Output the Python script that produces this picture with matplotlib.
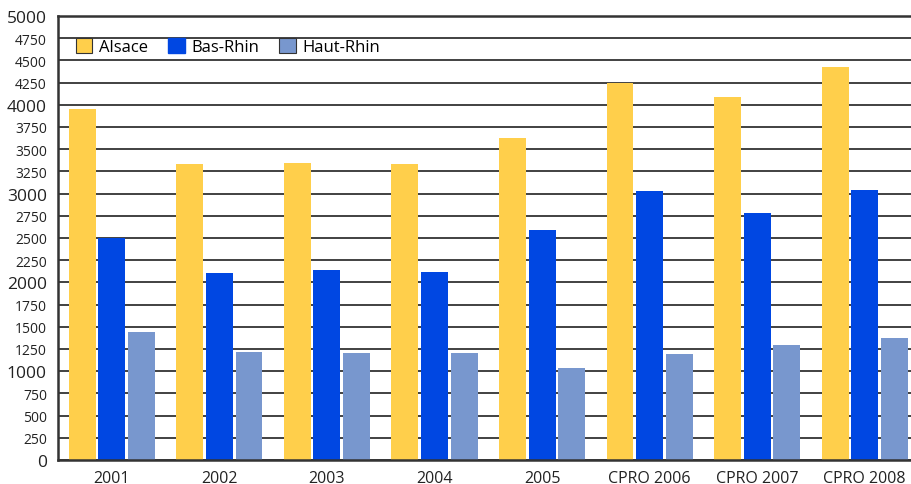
import numpy as np
import matplotlib.pyplot as plt
from matplotlib.patches import Patch

plt.rcParams['font.family'] = ['Open Sans', 'DejaVu Sans']

categories = ['2001', '2002', '2003', '2004', '2005', 'CPRO 2006', 'CPRO 2007', 'CPRO 2008']
alsace = [3950, 3330, 3340, 3330, 3625, 4245, 4085, 4425]
bas_rhin = [2505, 2105, 2140, 2115, 2590, 3030, 2780, 3040]
haut_rhin = [1440, 1215, 1205, 1205, 1035, 1195, 1295, 1375]

c_als = '#FFCF4B'
c_bas = '#0047E2'
c_haut = '#7897CE'

fig = plt.figure(figsize=(9.11, 4.85), dpi=100)
ax = fig.add_axes([0.0637, 0.0495, 0.9363, 0.9155])

x = np.arange(len(categories))
w = 0.25
step = 0.275
ax.bar(x - step, alsace, w, color=c_als, zorder=2)
ax.bar(x, bas_rhin, w, color=c_bas, zorder=2)
ax.bar(x + step, haut_rhin, w, color=c_haut, zorder=2)

ax.set_xlim(-0.5, 7.43)
ax.set_ylim(0, 5000)

ax.set_yticks(np.arange(0, 5001, 1000))
ax.set_yticks(np.arange(0, 5001, 250), minor=True)
ax.tick_params(axis='y', which='major', length=0, labelsize=12.5, colors='#222222', pad=8)
ax.tick_params(axis='y', which='minor', length=0, labelsize=10, colors='#222222', pad=8)
ax.yaxis.set_minor_formatter(lambda v, p: '' if v % 1000 == 0 else f'{int(v)}')

ax.set_xticks(x)
ax.set_xticklabels(categories, fontsize=11.5, color='#222222')
ax.tick_params(axis='x', length=0, pad=7)

ax.grid(axis='y', which='both', color='#333333', linewidth=1.3, zorder=0)
ax.set_axisbelow(True)

for s in ['left', 'bottom', 'top']:
    ax.spines[s].set_color('#333333')
    ax.spines[s].set_linewidth(1.8)
ax.spines['right'].set_visible(False)

handles = [Patch(facecolor=c_als, edgecolor='#333333', linewidth=0.8, label='Alsace'),
           Patch(facecolor=c_bas, edgecolor=c_bas, label='Bas-Rhin'),
           Patch(facecolor=c_haut, edgecolor='#333333', linewidth=0.8, label='Haut-Rhin')]
ax.legend(handles=handles, ncol=3, loc='upper left', bbox_to_anchor=(0.003, 0.985),
          frameon=False, fontsize=12, handlelength=1.0, handleheight=1.0,
          handletextpad=0.4, columnspacing=1.2)

fig.savefig('out.png', dpi=100)
